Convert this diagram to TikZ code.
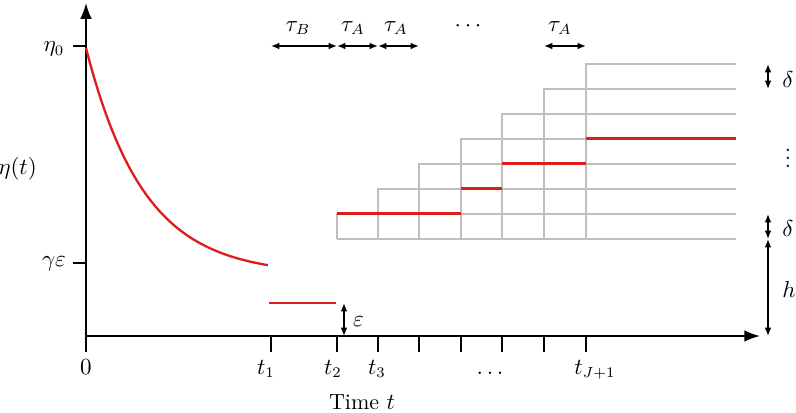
\documentclass[tikz,border=0pt]{standalone}
\usetikzlibrary{arrows.meta}
\definecolor{cred}{RGB}{218,30,30}
\definecolor{cgrid}{RGB}{190,190,190}
\begin{document}
\begin{tikzpicture}[x=0.476pt,y=-0.476pt,
  every node/.style={font=\fontsize{10.5}{12.6}\selectfont},
  axis/.style={line width=0.8pt,-{Latex[length=7.5pt,width=5.5pt]}},
  tickline/.style={line width=0.8pt},
  gridline/.style={cgrid,line width=0.6pt},
  redline/.style={cred,line width=1.1pt},
  dim/.style={line width=0.7pt,{Latex[length=4pt,width=3.2pt]}-{Latex[length=4pt,width=3.2pt]}},
  lab/.style={inner sep=0pt},
  blab/.style={inner sep=0pt,anchor=base}]
\useasboundingbox (0,0) rectangle (796,412);
% axes
\coordinate (O) at (86,336);
\coordinate (ytop) at (86,3);
\coordinate (ybot) at (86,352);
\coordinate (xend) at (760,336);
\draw[axis] (ybot) -- (ytop);
\draw[axis] (O) -- (xend);
% ticks
\foreach \x in {271,337,378,419,461,502,544,586}
  \draw[tickline] (\x,336) -- (\x,352);
\coordinate (e0a) at (73,46);
\coordinate (e0b) at (86,46);
\coordinate (gea) at (73,263);
\coordinate (geb) at (86,263);
\draw[tickline] (e0a) -- (e0b);
\draw[tickline] (gea) -- (geb);
% grid
\foreach \x/\y in {337/214,378/189,419/164,461/139,502/114,544/89,586/64}
  \draw[gridline] (\x,239) -- (\x,\y) -- (736,\y);
\draw[gridline] (337,239) -- (736,239);
% red curves
\draw[redline] plot[domain=0:182,samples=80] ({86+\x},{275-227*exp(-\x/58)});
\draw[redline] (269,303) -- (336,303);
\draw[redline] (337,213.5) -- (461,213.5);
\draw[redline] (461,188.5) -- (502,188.5);
\draw[redline] (502,163.5) -- (586,163.5);
\draw[redline] (586,138.5) -- (736,138.5);
% dimension arrows
\draw[dim] (344,303) -- (344,336);
\draw[dim] (271,46) -- (337,46);
\draw[dim] (337,46) -- (378,46);
\draw[dim] (378,46) -- (419,46);
\draw[dim] (544,46) -- (586,46);
\draw[dim] (768,64) -- (768,89);
\draw[dim] (768,214) -- (768,239);
\draw[dim] (768,239) -- (768,336);
% labels
\node[lab] (leta0) at (54,49) {$\eta_0$};
\node[lab] (lge) at (54,264) {$\gamma\varepsilon$};
\node[lab] (leta) at (17.5,169) {$\eta(t)$};
\node[blab] (lzero) at (86,374) {$0$};
\node[blab] (lt1) at (266,374) {$t_1$};
\node[blab] (lt2) at (333,374) {$t_2$};
\node[blab] (lt3) at (377,374) {$t_3$};
\node[blab] (ldots) at (490,374) {$\ldots$};
\node[blab] (ltj) at (595,374) {$t_{J+1}$};
\node[blab] (ltime) at (362,409) {Time $t$};
\node[blab] (ltb) at (298,31) {$\tau_B$};
\node[blab] (lta1) at (353,31) {$\tau_A$};
\node[blab] (lta2) at (396,31) {$\tau_A$};
\node[blab] (lcd) at (468,31) {$\cdots$};
\node[blab] (lta3) at (560,31) {$\tau_A$};
\node[lab] (lde1) at (788,80) {$\delta$};
\node[lab] (lvd) at (788,152) {$\vdots$};
\node[lab] (lde2) at (788,229) {$\delta$};
\node[lab] (lh) at (789,290) {$h$};
\node[lab] (leps) at (358.5,322) {$\varepsilon$};
\end{tikzpicture}
\end{document}
